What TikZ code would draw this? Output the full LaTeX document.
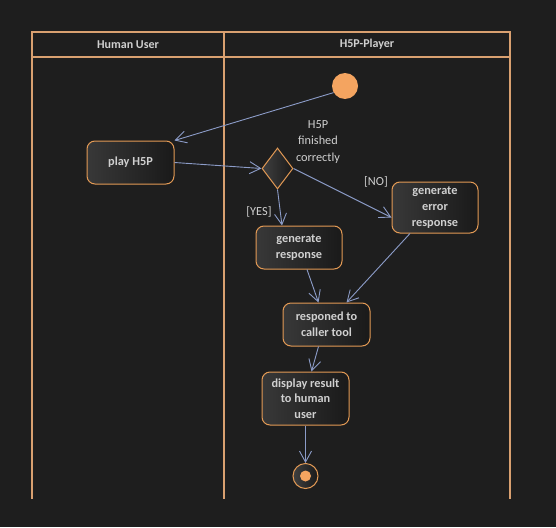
\documentclass[tikz,border=0pt]{standalone}
\usepackage{fontspec}
\setmainfont{Carlito}
\usetikzlibrary{arrows.meta,shapes.geometric}
\definecolor{bg}{HTML}{1E1E1E}
\definecolor{lane}{HTML}{D9A070}
\definecolor{obord}{HTML}{E39A55}
\definecolor{ofill}{HTML}{F4A460}
\definecolor{txt}{HTML}{D0D0D0}
\definecolor{edge}{HTML}{8C9CC8}
\tikzset{
  x=1pt,y=-1pt,
  lanel/.style={draw=lane,line width=1.3pt},
  act/.style={draw=obord,line width=1pt,rounded corners=8pt,left color=black!78,right color=black!90,
    text=txt,font=\bfseries\fontsize{12.3}{15.7}\selectfont,align=center,inner sep=0pt},
  dec/.style={draw=obord,line width=1pt,diamond,aspect=0.76,left color=black!75,right color=black!90,
    minimum width=31pt,minimum height=41pt,inner sep=0pt},
  flow/.style={draw=edge,line width=0.9pt,-{Straight Barb[length=11pt,width=12pt,line width=0.9pt]}},
  lbl/.style={text=txt,font=\fontsize{12.3}{16.5}\selectfont,align=center,inner sep=0pt},
  hdr/.style={text=txt,font=\bfseries\fontsize{12}{14}\selectfont,inner sep=0pt}
}
\begin{document}
\begin{tikzpicture}
\fill[bg] (0,0) rectangle (556,527);
\useasboundingbox (0,0) rectangle (556,527);
% swimlanes
\draw[lanel] (32,499) -- (32,32) -- (510,32) -- (510,499);
\draw[lanel] (32,57) -- (510,57);
\draw[lanel] (224,32) -- (224,499);
\node[hdr] (h1) at (128,44.5) {Human User};
\node[hdr] (h2) at (367,44.5) {H5P-Player};
% nodes
\node[circle,fill=ofill,minimum size=26pt,inner sep=0pt] (start) at (345,86) {};
\node[act,minimum width=87pt,minimum height=43pt] (play) at (130.5,162.5) {play H5P};
\node[dec] (d) at (277.5,168.5) {};
\node[lbl] (q) at (318,142) {H5P\\finished\\correctly};
\node[act,minimum width=86pt,minimum height=51pt] (err) at (435,207.5) {generate\\error\\response};
\node[act,minimum width=86pt,minimum height=43pt] (gen) at (299,247.5) {generate\\response};
\node[act,minimum width=87pt,minimum height=43pt] (resp) at (326.5,324.5) {responed to\\caller tool};
\node[act,minimum width=87pt,minimum height=53pt] (disp) at (305.5,398.5) {display result\\to human\\user};
\node[circle,draw=obord,line width=1pt,left color=black!75,right color=black!90,minimum size=25pt,inner sep=0pt] (end) at (305.5,476) {};
\node[circle,fill=ofill,minimum size=11pt,inner sep=0pt] (endin) at (305.5,476) {};
\node[lbl] (no) at (376,182) {[NO]};
\node[lbl] (yes) at (259,212) {[YES]};
% edges
\draw[flow] (start.210) -- (play.north east);
\draw[flow] (play.east) -- (d.west);
\draw[flow] (d.east) -- ([yshift=-10pt]err.west);
\draw[flow] (d.south) -- ([xshift=-17pt]gen.north);
\draw[flow] ([xshift=8pt]gen.south) -- ([xshift=-8pt]resp.north);
\draw[flow] ([xshift=-25pt]err.south) -- ([xshift=20pt]resp.north);
\draw[flow] ([xshift=-8pt]resp.south) -- ([xshift=6pt]disp.north);
\draw[flow] (disp.south) -- (end.north);
\end{tikzpicture}
\end{document}
